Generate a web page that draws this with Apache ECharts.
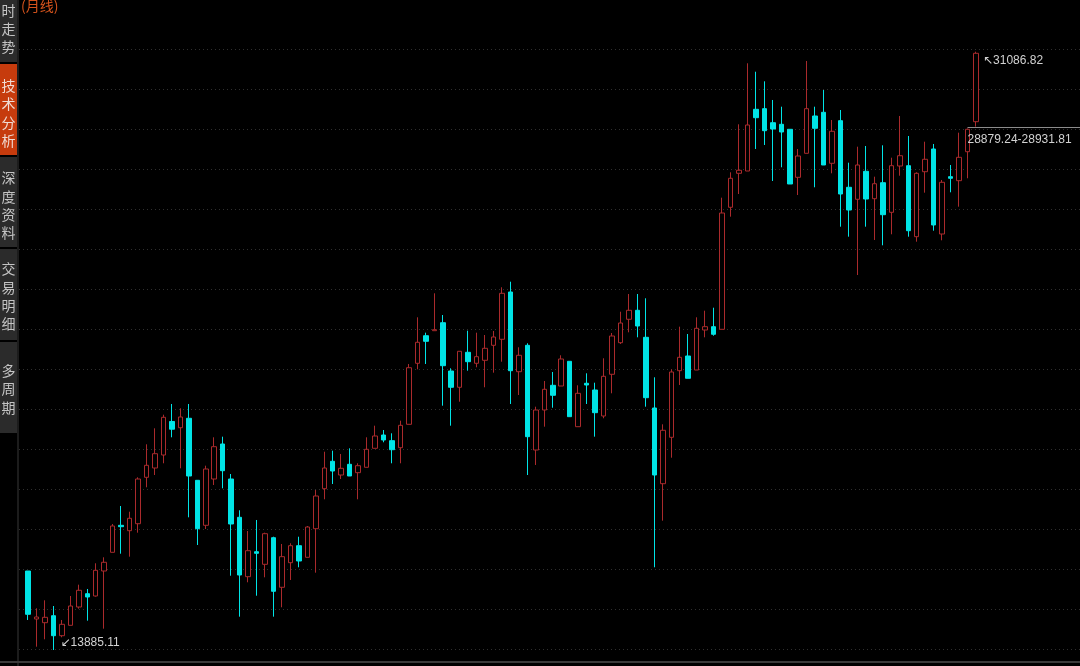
<!DOCTYPE html>
<html>
<head>
<meta charset="utf-8">
<script src="https://cdn.jsdelivr.net/npm/echarts@6/dist/echarts.min.js"></script>
<style>
html,body{margin:0;padding:0;background:#000;}
#c{width:1080px;height:666px;}
</style>
</head>
<body>
<div id="c"></div>
<script>
// Monthly candles, Jan 2014 .. May 2023
const startYear = 2014;
const opens = [16156,14776,14670,14871,14296,14595,15121,15504,15438,16156,16694,17470,17315,17516,18850,19118,19491,20455,20276,20547,18764,17470,18801,19808,18801,17700,15993,16711,16349,17114,15688,16395,16884,16550,17372,18523,19310,18916,19224,18983,19138,19684,20066,19903,19701,20374,22128,22921,23065,23295,21906,21438,22444,22128,22214,22645,22818,24178,21886,22645,19635,20785,21495,21475,22185,20305,21553,21360,20613,21812,22720,23393,23652,22875,20843,18666,20000,21915,22338,21935,23085,23180,23105,26613,27590,27656,29430,29448,29045,28999,28855,27475,28165,29238,29344,27878,29103,27188,26843,27648,26860,27320,26469,27800,27809,25768,27636,28289,25845,27493,27378,28211,29074];
const closes = [14912,14834,14825,14296,14624,15150,15602,15409,16177,16407,17450,17430,17672,18801,19195,19529,20575,20233,20584,18888,17372,19089,19730,19040,17508,16041,16740,16665,17229,15573,16568,16884,16444,17421,18313,19118,19031,19109,18888,19184,19655,20038,19923,19644,20345,22001,22732,22760,23094,22059,21438,22473,22174,22318,22559,22884,24140,21915,22358,20018,20785,21380,21208,22251,20593,21265,21504,20708,21754,22913,23286,23652,23200,21139,18916,20202,21878,22300,21697,23134,23180,22962,26449,27447,27677,28979,29189,28815,28864,28778,27283,28088,29448,28884,27829,28798,26995,26535,27829,26851,27291,26400,27809,28096,25940,27590,27993,26104,27332,27447,28050,28856,31040];
const lows = [14748,13980,14193,13885.11,14250,14595,15073,14728,15418,14498,16694,16654,16568,17258,18563,18916,19253,20000,19109,17700,16904,17364,18629,18534,16021,14843,15832,15446,15975,14843,15113,15898,16263,16550,16108,18218,18658,18801,18888,18218,19138,19684,19857,19253,19253,20374,21955,22108,23065,20909,20334,21024,21915,22013,21438,21858,22174,20958,21216,18916,19204,20305,20851,21475,20593,20305,20958,20018,20547,21265,22683,23019,22875,20880,16263,17603,19414,21504,21697,21935,22875,22921,23105,26343,26995,27656,28289,28404,27369,27763,27283,26966,28165,27188,27829,27590,26055,25768,24666,26055,25673,25520,25837,27521,25768,25624,27033,25940,25664,27044,26630,27447,28931.81];
const highs = [16156,15084,15314,15150,14748,15438,15763,15639,16378,16550,17508,18025,17861,18850,19799,20259,20650,20958,20834,20958,18764,19184,20000,20018,18945,17902,17306,17623,17258,17142,16933,16953,17142,17450,18485,19586,19615,19520,19684,19253,20000,20334,20210,20115,20478,22108,23450,23008,24140,23516,21984,22473,23065,23008,22941,23056,24313,24474,22588,22703,20880,21619,21878,22358,22185,21495,21840,21570,22272,22999,23611,24120,24120,23997,21725,20374,21955,23180,22970,23450,23640,23726,26889,27619,28999,30753,30511,30235,29698,29505,28855,28289,30819,29505,29985,29123,29410,27895,28355,28375,27493,28395,28039,29238,28663,27619,28499,28433,27398,27829,28758,28879.24,31086.82];

const categories = [];
for (let i = 0; i < opens.length; i++) {
  const y = startYear + Math.floor(i / 12), m = (i % 12) + 1;
  categories.push(y + '-' + (m < 10 ? '0' + m : m));
}
const candleData = opens.map((o, i) => [o, closes[i], lows[i], highs[i]]);
const gapLow = highs[highs.length - 2];
const gapHigh = lows[lows.length - 1];
const gapMid = (gapLow + gapHigh) / 2;

const UP = '#aa2a2c', DOWN = '#00e4e6';
const LABEL_FONT = '"Liberation Sans", "DejaVu Sans", sans-serif';
const CJK = '"Noto Sans CJK SC", sans-serif';

const chart = echarts.init(document.getElementById('c'), null, {renderer: 'canvas'});

const tabs = [
  {t: '分时走势', y0: -30, y1: 62, cy: 19.5, active: false},
  {t: '技术分析', y0: 64, y1: 155, cy: 113, active: true},
  {t: '深度资料', y0: 157, y1: 247, cy: 205.5, active: false},
  {t: '交易明细', y0: 249, y1: 340, cy: 296.5, active: false},
  {t: '多周期', y0: 342, y1: 433, cy: 389, active: false}
];
const graphics = [
  {type: 'rect', shape: {x: 17, y: 0, width: 2, height: 666}, style: {fill: '#1c1c1c'}, silent: true},
  {type: 'rect', shape: {x: 0, y: 661, width: 1080, height: 2}, style: {fill: '#3a3a3a'}, silent: true}
];
tabs.forEach(tb => {
  graphics.push({type: 'rect', shape: {x: 0, y: tb.y0, width: 17, height: tb.y1 - tb.y0},
    style: {fill: tb.active ? '#c63b0d' : '#2b2b2b'}, silent: true});
  graphics.push({type: 'text', style: {text: tb.t.split('').join('\n'), x: 8.5, y: tb.cy,
    align: 'center', verticalAlign: 'middle', lineHeight: 18.4,
    font: '14px ' + CJK, fill: tb.active ? '#f0dcd4' : '#c4c4c4'}, silent: true});
});

chart.setOption({
  backgroundColor: '#000',
  animation: false,
  title: {text: '(月线)', left: 21, top: -1, padding: 0,
    textStyle: {color: '#d4531c', fontSize: 14, fontWeight: 'normal', fontFamily: CJK}},
  grid: [
    {left: 23.8, right: 99.8, top: 50, height: 600},
    {left: 19, right: 0, top: 49, height: 600}
  ],
  xAxis: [
    {type: 'category', gridIndex: 0, data: categories, boundaryGap: true,
     axisLine: {show: false}, axisTick: {show: false}, axisLabel: {show: false}, splitLine: {show: false}},
    {type: 'value', gridIndex: 1, min: 0, max: 1, show: false}
  ],
  yAxis: [
    {type: 'value', gridIndex: 0, min: 13885.11, max: 31135.11, scale: true,
     axisLine: {show: false}, axisTick: {show: false}, axisLabel: {show: false}, splitLine: {show: false}},
    {type: 'value', gridIndex: 1, min: 0, max: 15, interval: 1,
     axisLine: {show: false}, axisTick: {show: false}, axisLabel: {show: false},
     splitLine: {show: true, lineStyle: {color: '#303030', type: [1, 3], width: 1}}}
  ],
  graphic: graphics,
  series: [{
    type: 'candlestick',
    xAxisIndex: 0, yAxisIndex: 0,
    data: candleData,
    barWidth: 5,
    clip: false,
    itemStyle: {color: '#000', color0: DOWN, borderColor: UP, borderColor0: DOWN, borderWidth: 1},
    markPoint: {
      symbol: 'circle', symbolSize: 0.1,
      itemStyle: {color: 'transparent'},
      label: {show: true, position: 'right', distance: 5, color: '#d2d2d2', fontSize: 12, fontFamily: LABEL_FONT},
      data: [
        {type: 'max', valueDim: 'highest', label: {formatter: p => '↖' + p.value, offset: [2, 9]}},
        {type: 'min', valueDim: 'lowest', label: {formatter: p => '↙' + p.value, offset: [2, -7]}}
      ]
    },
    markLine: {
      symbol: ['none', 'none'], silent: true,
      lineStyle: {color: '#8c8c8c', type: 'solid', width: 1},
      label: {show: true, position: 'insideStartBottom', distance: [0, 6], color: '#d2d2d2',
        fontSize: 12, fontFamily: LABEL_FONT,
        formatter: () => gapLow.toFixed(2) + '-' + gapHigh.toFixed(2)},
      data: [[{coord: [categories.length - 2, gapMid]}, {coord: [categories.length - 1, gapMid], x: 1080}]]
    }
  }]
});
</script>
</body>
</html>
